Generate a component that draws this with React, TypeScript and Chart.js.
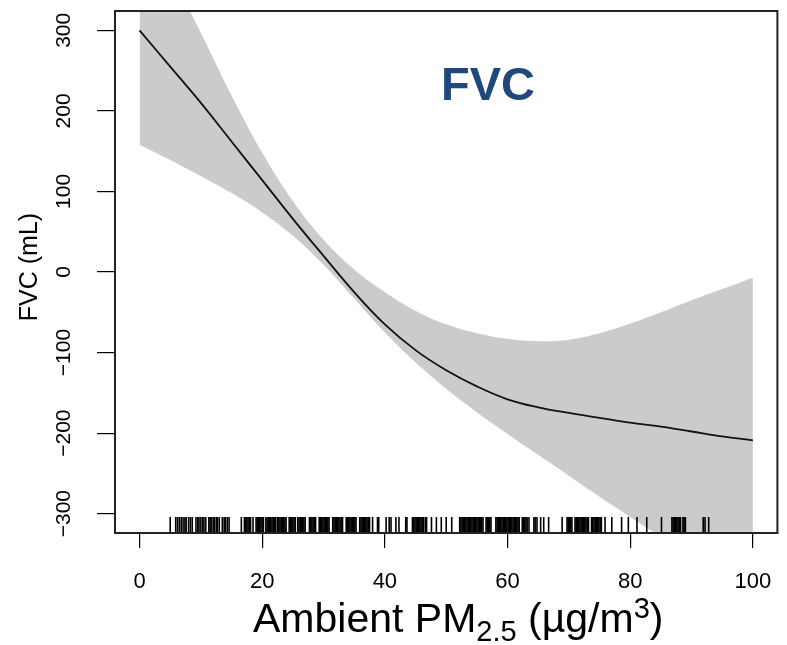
import React, { useEffect, useRef } from "react";
import { Chart, registerables } from "chart.js";

Chart.register(...registerables);

// PM2.5 grid (µg/m3)
const pm = [0, 5, 10, 15, 20, 25, 30, 35, 40, 45, 50, 55, 60, 65, 70, 75, 80, 85, 90, 95, 100];
// smooth fit of FVC change (mL)
const fvcFit = [300, 255, 210, 162, 114, 66, 20, -25, -65, -97, -122, -142, -158, -168, -175, -181, -187, -192, -198, -204, -209];
// upper 95% band
const fvcUpper = [447, 372, 297, 219, 148, 88, 40, 3, -25, -48, -65, -76, -83, -86, -84, -76, -64, -50, -35, -21, -7];
// lower 95% band
const fvcLower = [158, 139, 119, 98, 74, 45, 9, -33, -75, -112, -145, -174, -201, -227, -253, -279, -304, -329, -354, -379, -404];

// rug of observed exposures
const rugValues = [
  5.0, 5.9, 6.2, 6.5, 6.8, 7.1, 7.4, 7.6, 8.0, 8.3, 8.6, 9.2, 9.5, 9.7, 10.0, 10.3, 10.5, 10.8, 11.3, 11.5, 11.7, 12.0, 12.2, 12.5, 12.7,
  13.0, 13.5, 13.8, 14.0, 14.3, 14.6,
  16.6, 17.1, 17.3, 17.5, 17.7, 17.9, 18.1, 18.5, 19.0, 19.2, 19.4, 19.6, 19.8, 20.0, 20.2, 20.6, 20.8, 21.0, 21.2, 21.4, 21.6, 21.8, 22.0,
  22.2, 22.5, 22.7, 22.9, 23.1, 23.3, 23.5, 23.7, 23.9, 24.4, 24.6, 24.8, 25.0, 25.2, 25.4, 25.8, 26.0, 26.2, 26.4, 26.6, 26.8, 27.0, 27.7,
  27.9, 28.1, 28.3, 28.5, 28.7, 29.3, 29.5, 29.7, 29.9, 30.1, 30.3, 30.5, 30.7, 30.9, 31.5, 31.7, 31.9, 32.1, 32.3, 32.5, 32.7, 32.9, 33.1,
  33.7, 33.9, 34.1, 34.3, 34.5, 34.7, 34.9, 35.1, 35.3, 35.9, 36.1, 36.3, 36.5, 36.7, 36.9, 37.1, 37.3, 37.5, 38.0, 38.8, 39.0, 40.2, 40.7,
  41.0, 41.8, 42.3, 43.4, 43.6, 44.5, 44.7, 44.9, 45.1, 45.3, 45.5, 45.7, 45.9, 46.1, 46.3, 46.6, 46.8, 47.6, 48.4, 49.2, 50.0, 50.9, 52.2,
  52.4, 52.6, 52.8, 53.0, 53.2, 53.4, 53.6, 53.8, 54.0, 54.2, 54.4, 54.6, 54.8, 55.0, 55.2, 55.4, 55.6, 55.8, 56.0, 56.5, 56.7, 56.9, 57.1,
  57.3, 58.1, 58.3, 58.5, 58.7, 58.9, 59.1, 59.3, 59.5, 59.7, 59.9, 60.1, 60.3, 60.5, 60.7, 60.9, 61.1, 61.3, 61.5, 61.7, 61.9, 62.4, 62.6,
  62.8, 63.0, 63.2, 63.5, 64.3, 64.5, 64.8, 65.4, 65.9, 66.7, 68.9, 69.7, 69.9, 70.1, 70.3, 70.5, 71.0, 71.2, 71.4, 71.6, 71.8, 72.0, 72.2,
  72.4, 72.6, 72.8, 73.0, 73.2, 73.7, 73.9, 74.1, 74.3, 74.5, 74.7, 74.9, 75.1, 75.3, 75.9, 77.0, 78.6, 79.7, 81.1, 82.7, 85.1, 86.8, 87.0,
  87.2, 87.4, 87.6, 87.8, 88.0, 88.2, 88.6, 88.8, 89.0, 91.9, 92.2, 92.8,
];

const xTickValues = [0, 20, 40, 60, 80, 100];
const xTickLabels = ["0", "20", "40", "60", "80", "100"];
const yTickValues = [-300, -200, -100, 0, 100, 200, 300];
const yTickLabels = ["\u2212300", "\u2212200", "\u2212100", "0", "100", "200", "300"];

const titleText = "FVC";
const yTitle = "FVC (mL)";
const xTitleParts = ["Ambient PM", "2.5", " (\u00b5g/m", "3", ")"];

const FONT = '"Liberation Sans", Arial, Helvetica, sans-serif';

const rPlugin = {
  id: "rStyle",
  afterDraw(chart: any) {
    const ctx = chart.ctx as CanvasRenderingContext2D;
    const area = chart.chartArea;
    const xs = chart.scales.x;
    const ys = chart.scales.y;
    ctx.save();
    // box
    ctx.strokeStyle = "#222";
    ctx.lineWidth = 2;
    ctx.strokeRect(area.left, area.top, area.right - area.left, area.bottom - area.top);

    ctx.fillStyle = "#000";
    // y tick labels (rotated)
    ctx.font = `21px ${FONT}`;
    ctx.textAlign = "center";
    ctx.textBaseline = "middle";
    yTickValues.forEach((v, i) => {
      const y = ys.getPixelForValue(v);
      ctx.save();
      ctx.translate(64, y);
      ctx.rotate(-Math.PI / 2);
      ctx.fillText(yTickLabels[i], 0, 0);
      ctx.restore();
    });
    // y title
    ctx.font = `25px ${FONT}`;
    ctx.save();
    ctx.translate(30, 267);
    ctx.rotate(-Math.PI / 2);
    ctx.fillText(yTitle, 0, 0);
    ctx.restore();

    // x tick labels
    ctx.font = `22px ${FONT}`;
    ctx.textBaseline = "alphabetic";
    xTickValues.forEach((v, i) => {
      const x = xs.getPixelForValue(v);
      ctx.fillText(xTickLabels[i], x, 588);
    });

    // x title with subscript / superscript
    const big = `41px ${FONT}`;
    const small = `29px ${FONT}`;
    ctx.textAlign = "left";
    let cx = 253;
    const base = 632;
    const parts = [
      { t: xTitleParts[0], f: big, dy: 0 },
      { t: xTitleParts[1], f: small, dy: 9 },
      { t: xTitleParts[2], f: big, dy: 0 },
      { t: xTitleParts[3], f: small, dy: -14 },
      { t: xTitleParts[4], f: big, dy: 0 },
    ];
    parts.forEach((p) => {
      ctx.font = p.f;
      ctx.fillText(p.t, cx, base + p.dy);
      cx += ctx.measureText(p.t).width;
    });

    // panel title
    ctx.font = `bold 47px ${FONT}`;
    ctx.fillStyle = "#1f497d";
    ctx.textAlign = "center";
    ctx.fillText(titleText, 488, 100);
    ctx.restore();
  },
};

export default function App() {
  const ref = useRef<HTMLCanvasElement | null>(null);
  useEffect(() => {
    document.body.style.margin = "0";
    const canvas = ref.current;
    if (!canvas) return;
    const toPts = (ys: number[]) => pm.map((x, i) => ({ x, y: ys[i] }));
    const chart = new Chart(canvas, {
      type: "line",
      data: {
        datasets: [
          {
            label: "upper",
            data: toPts(fvcUpper),
            borderWidth: 0,
            pointRadius: 0,
            backgroundColor: "#cbcbcb",
            borderColor: "rgba(0,0,0,0)",
            fill: "+1",
            tension: 0.4,
            order: 3,
          },
          {
            label: "lower",
            data: toPts(fvcLower),
            borderWidth: 0,
            pointRadius: 0,
            borderColor: "rgba(0,0,0,0)",
            fill: false,
            tension: 0.4,
            order: 2,
          },
          {
            label: "fit",
            data: toPts(fvcFit),
            borderWidth: 1.8,
            borderColor: "#111",
            pointRadius: 0,
            fill: false,
            tension: 0.4,
            order: 1,
          },
          {
            type: "scatter",
            label: "rug",
            data: rugValues.map((x) => ({ x, y: -314 })),
            pointStyle: "line",
            rotation: 90,
            radius: 8,
            pointRadius: 8,
            borderWidth: 1.6,
            borderColor: "#000",
            backgroundColor: "#000",
            showLine: false,
            order: 0,
          } as any,
        ],
      },
      options: {
        responsive: false,
        animation: false,
        events: [],
        layout: { padding: { left: 97, right: 9, top: 11, bottom: 97 } },
        plugins: { legend: { display: false }, tooltip: { enabled: false } },
        scales: {
          x: {
            type: "linear",
            min: -4,
            max: 104,
            afterBuildTicks: (s: any) => {
              s.ticks = xTickValues.map((v) => ({ value: v }));
            },
            afterFit: (s: any) => {
              s.height = 15;
            },
            ticks: { display: false },
            grid: { drawOnChartArea: false, drawTicks: true, tickLength: 15, color: "#000", lineWidth: 1.2 },
            border: { display: true, color: "#222", width: 2 },
          },
          y: {
            type: "linear",
            min: -324,
            max: 324,
            afterBuildTicks: (s: any) => {
              s.ticks = yTickValues.map((v) => ({ value: v }));
            },
            afterFit: (s: any) => {
              s.width = 18;
            },
            ticks: { display: false },
            grid: { drawOnChartArea: false, drawTicks: true, tickLength: 18, color: "#000", lineWidth: 1.2 },
            border: { display: true, color: "#222", width: 2 },
          },
        },
      },
      plugins: [rPlugin],
    });
    return () => chart.destroy();
  }, []);
  return (
    <canvas
      ref={ref}
      width={787}
      height={645}
      style={{ position: "absolute", left: 0, top: 0, display: "block", background: "#fff" }}
    />
  );
}
